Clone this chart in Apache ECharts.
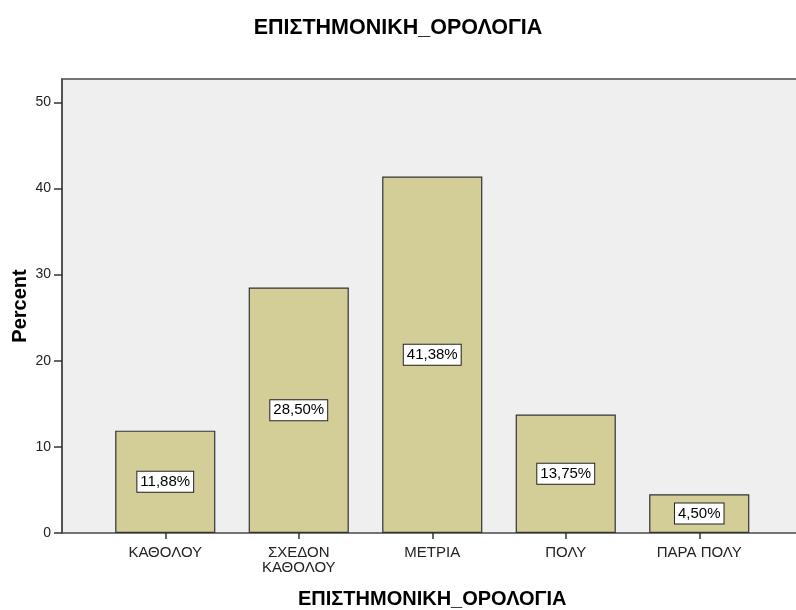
<!DOCTYPE html>
<html>
<head>
<meta charset="utf-8">
<script src="https://cdn.jsdelivr.net/npm/echarts@6/dist/echarts.min.js"></script>
<style>
  html, body { margin: 0; padding: 0; background: #ffffff; }
  #chart { width: 796px; height: 610px; }
</style>
</head>
<body>
<div id="chart"></div>
<script>
// Response categories and their percentages
const categories = ['ΚΑΘΟΛΟΥ', 'ΣΧΕΔΟΝ\nΚΑΘΟΛΟΥ', 'ΜΕΤΡΙΑ', 'ΠΟΛΥ', 'ΠΑΡΑ ΠΟΛΥ'];
const percents = [11.88, 28.50, 41.38, 13.75, 4.50];
const yTicks = [0, 10, 20, 30, 40, 50];
const yMax = 52.7;

const FONT = '"Liberation Sans", Arial, sans-serif';
const chart = echarts.init(document.getElementById('chart'), null, { renderer: 'canvas' });

const fmt = v => v.toFixed(2).replace('.', ',') + '%';

chart.setOption({
  animation: false,
  backgroundColor: '#ffffff',
  title: {
    text: 'ΕΠΙΣΤΗΜΟΝΙΚΗ_ΟΡΟΛΟΓΙΑ',
    left: 'center',
    top: 12,
    textStyle: { fontFamily: FONT, fontSize: 21.5, fontWeight: 'bold', color: '#000' }
  },
  grid: [
    // plot frame and background
    { left: 62, right: -3, top: 79, bottom: 77, show: true, containLabel: false,
      outerBoundsMode: 'none',
      backgroundColor: '#efefef', borderColor: '#4a4a4a', borderWidth: 1.5 },
    // bars
    { left: 98.5, right: 30, top: 79, bottom: 77, containLabel: false,
      outerBoundsMode: 'none' }
  ],
  xAxis: [
    { gridIndex: 0, type: 'value', min: 0, max: 1, show: false },
    {
      gridIndex: 1,
      type: 'category',
      data: categories,
      boundaryGap: true,
      axisLine: { show: false },
      axisTick: { show: true, alignWithLabel: true, length: 6,
        lineStyle: { color: '#333', width: 1.5 } },
      axisLabel: { fontFamily: FONT, fontSize: 15, color: '#222', margin: 12,
        lineHeight: 15, interval: 0 },
      name: 'ΕΠΙΣΤΗΜΟΝΙΚΗ_ΟΡΟΛΟΓΙΑ',
      nameLocation: 'middle',
      nameGap: 56,
      nameMoveOverlap: false,
      nameTextStyle: { fontFamily: FONT, fontSize: 20, fontWeight: 'bold', color: '#000' }
    }
  ],
  yAxis: [
    {
      gridIndex: 0,
      type: 'value',
      min: 0,
      max: yMax,
      axisLine: { show: true, lineStyle: { color: '#4a4a4a', width: 1.5 } },
      axisTick: { show: true, length: 8, customValues: yTicks,
        lineStyle: { color: '#333', width: 1.5 } },
      axisLabel: { customValues: yTicks, fontFamily: FONT, fontSize: 14,
        color: '#222', margin: 11 },
      splitLine: { show: false },
      name: 'Percent',
      nameLocation: 'middle',
      nameGap: 32,
      nameMoveOverlap: false,
      nameTextStyle: { fontFamily: FONT, fontSize: 20, fontWeight: 'bold', color: '#000' }
    },
    { gridIndex: 1, type: 'value', min: 0, max: yMax, show: false }
  ],
  series: [{
    type: 'bar',
    xAxisIndex: 1,
    yAxisIndex: 1,
    data: percents,
    barCategoryGap: '25%',
    itemStyle: { color: '#d3ce97', borderColor: '#333', borderWidth: 1.2 },
    label: {
      show: true,
      position: 'inside',
      formatter: p => fmt(p.value),
      fontFamily: FONT,
      fontSize: 15,
      color: '#000',
      backgroundColor: '#ffffff',
      borderColor: '#222',
      borderWidth: 1,
      padding: [3, 3, 2, 3]
    }
  }]
});
</script>
</body>
</html>
